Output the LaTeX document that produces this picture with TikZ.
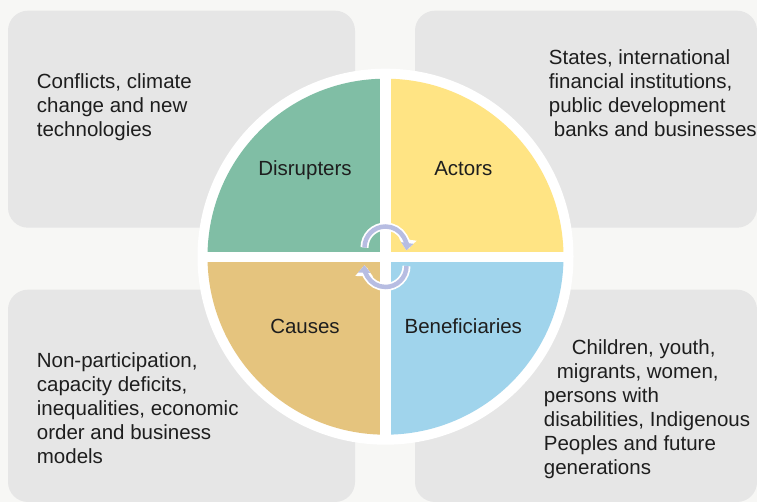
\documentclass[tikz,border=0pt]{standalone}
\usepackage{fontspec}
\setmainfont{Liberation Sans}
\usepackage{tikz}
\usetikzlibrary{arrows.meta, positioning}

\definecolor{bgpaper}{HTML}{F7F7F5}
\definecolor{boxgray}{HTML}{E6E6E6}
\definecolor{disgreen}{HTML}{80BEA5}
\definecolor{actyellow}{HTML}{FFE484}
\definecolor{causetan}{HTML}{E5C47E}
\definecolor{beneblue}{HTML}{A0D4EC}
\definecolor{cyclelav}{HTML}{B7BDE2}
\definecolor{inktext}{HTML}{1E1E1E}

\tikzset{
  infobox/.style={fill=boxgray, rounded corners=20pt},
  infotext/.style={anchor=base west, align=left, inner sep=0pt, text=inktext,
    font=\fontsize{20.5}{24}\selectfont},
  quadlabel/.style={anchor=base, inner sep=0pt, text=inktext,
    font=\fontsize{20.5}{24}\selectfont},
  cyclewhite/.style={white, line width=8pt, -{Triangle[width=17pt,length=11pt]}},
  cyclearrow/.style={cyclelav, line width=4.5pt, -{Triangle[width=12pt,length=7.5pt]}}
}

\begin{document}
\begin{tikzpicture}[x=1pt, y=1pt]
                % Paper
                \fill[bgpaper] (0,0) rectangle (757,502);
                \useasboundingbox (0,0) rectangle (757,502);
                
                % Grey boxes
                \fill[infobox] (8,274.3) rectangle (355,491.3);
                \fill[infobox] (415,274.3) rectangle (757,491.3);
                \fill[infobox] (8,0) rectangle (355,212.3);
                \fill[infobox] (415,0) rectangle (757,212.3);
                
                % Wheel
                \coordinate (hub) at (385.5,245.3);
                \fill[white] (hub) circle (188);
                \begin{scope}
                  \clip (hub) circle (178);
                  \fill[disgreen] ([shift={(-5.5,5)}]hub) rectangle ++(-190,190);
                  \fill[actyellow] ([shift={(5.5,5)}]hub) rectangle ++(190,190);
                  \fill[causetan] ([shift={(-5.5,-5)}]hub) rectangle ++(-190,-190);
                  \fill[beneblue] ([shift={(5.5,-5)}]hub) rectangle ++(190,-190);
                \end{scope}
                
                \node[quadlabel] (disrupters) at (305,326) {Disrupters};
                \node[quadlabel] (actors) at (463.3,326) {Actors};
                \node[quadlabel] (causes) at (305,168.7) {Causes};
                \node[quadlabel] (beneficiaries) at (463.3,168.7) {Beneficiaries};
                
                % Cycle arrows
                \coordinate (upturn) at ([yshift=9.2pt]hub);
                \coordinate (downturn) at ([yshift=-9.3pt]hub);
                \draw[cyclewhite] ([shift={(180:21)}]upturn) arc[start angle=180, end angle=-8, radius=21];
                \draw[cyclearrow] ([shift={(180:21)}]upturn) arc[start angle=180, end angle=-8, radius=21];
                \draw[cyclewhite] ([shift={(0:21)}]downturn) arc[start angle=0, end angle=-182, radius=21];
                \draw[cyclearrow] ([shift={(0:21)}]downturn) arc[start angle=0, end angle=-182, radius=21];
                
                % Box texts (placed at the last line)
                \node[infotext] (disruptersinfo) at (36.7,365.3)
                  {Conflicts, climate\\change and new\\technologies};
                \node[infotext] (actorsinfo) at (548.7,365.3)
                  {States, international\\financial institutions,\\public development\\\hspace*{5pt}banks and businesses};
                \node[infotext] (causesinfo) at (36.7,38.3)
                  {Non-participation,\\capacity deficits,\\inequalities, economic\\order and business\\models};
                \node[infotext] (beneficiariesinfo) at (543.7,27.3)
                  {\hspace*{28pt}Children, youth,\\\hspace*{13pt}migrants, women,\\persons with\\disabilities, Indigenous\\Peoples and future\\generations};
            \end{tikzpicture}
\end{document}
